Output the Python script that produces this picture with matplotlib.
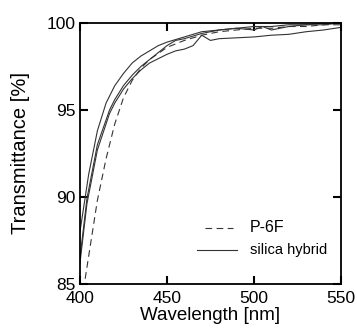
import matplotlib.pyplot as plt

plt.rcParams['font.family'] = ['Liberation Sans', 'DejaVu Sans']

# P-6F (dashed)
wl_p6f = [403, 405, 410, 415, 420, 425, 430, 435, 440, 450, 460, 470, 480, 490, 500, 510, 520, 530, 540, 550]
tr_p6f = [85.3, 86.6, 89.8, 92.2, 94.2, 95.7, 96.7, 97.4, 97.9, 98.6, 99.0, 99.3, 99.5, 99.6, 99.7, 99.7, 99.8, 99.8, 99.9, 99.9]

# silica hybrid (solid, three samples)
wl_a = [400, 405, 410, 415, 420, 425, 430, 435, 440, 445, 450, 460, 470, 480, 490, 500, 510, 520, 530, 540, 550]
tr_a = [88.0, 91.3, 93.8, 95.4, 96.4, 97.1, 97.7, 98.1, 98.4, 98.7, 98.9, 99.2, 99.5, 99.6, 99.7, 99.8, 99.8, 99.9, 99.9, 100.0, 100.0]

wl_b = [400, 404, 410, 417, 420, 425, 430, 435, 440, 445, 450, 455, 460, 470, 480, 490, 500, 505, 510, 520, 530, 540, 550]
tr_b = [86.5, 89.9, 93.0, 95.0, 95.6, 96.4, 97.0, 97.5, 97.9, 98.3, 98.7, 99.0, 99.1, 99.4, 99.6, 99.7, 99.6, 99.8, 99.6, 99.8, 99.9, 99.9, 100.0]

wl_c = [400, 404, 410, 417, 420, 425, 430, 435, 440, 450, 455, 460, 465, 470, 475, 480, 490, 500, 510, 520, 530, 540, 550]
tr_c = [86.2, 89.6, 92.7, 94.8, 95.4, 96.2, 96.8, 97.3, 97.7, 98.2, 98.4, 98.5, 98.7, 99.3, 99.0, 99.1, 99.15, 99.2, 99.3, 99.35, 99.5, 99.6, 99.75]

fig = plt.figure(figsize=(3.57, 3.29), dpi=100)
ax = fig.add_axes([0.224, 0.137, 0.731, 0.793])

ax.plot(wl_p6f, tr_p6f, color='#333333', lw=0.8, dashes=(6, 4))
for w, t in [(wl_a, tr_a), (wl_b, tr_b), (wl_c, tr_c)]:
    ax.plot(w, t, color='#333333', lw=0.8)

ax.set_xlim(400, 550)
ax.set_ylim(85, 100)
ax.set_xticks([400, 450, 500, 550])
ax.set_yticks([85, 90, 95, 100])
ax.tick_params(direction='in', length=6, width=1.5, labelsize=12.5,
               top=True, right=True)
ax.tick_params(axis='x', pad=5)
ax.tick_params(axis='y', pad=3)
for s in ax.spines.values():
    s.set_linewidth(1.3)

ax.set_xlabel('Wavelength [nm]', fontsize=13.5, labelpad=1)
ax.set_ylabel('Transmittance [%]', fontsize=14.5, labelpad=12)

# legend drawn by hand
ax.plot([0.48, 0.585], [0.215, 0.215], transform=ax.transAxes, color='#333333', lw=0.8, dashes=(6, 4))
ax.text(0.65, 0.215, 'P-6F', transform=ax.transAxes, fontsize=11.5, va='center')
ax.plot([0.45, 0.60], [0.13, 0.13], transform=ax.transAxes, color='#333333', lw=0.8)
ax.text(0.65, 0.13, 'silica hybrid', transform=ax.transAxes, fontsize=10.5, va='center')

fig.savefig('out.png', dpi=100)
